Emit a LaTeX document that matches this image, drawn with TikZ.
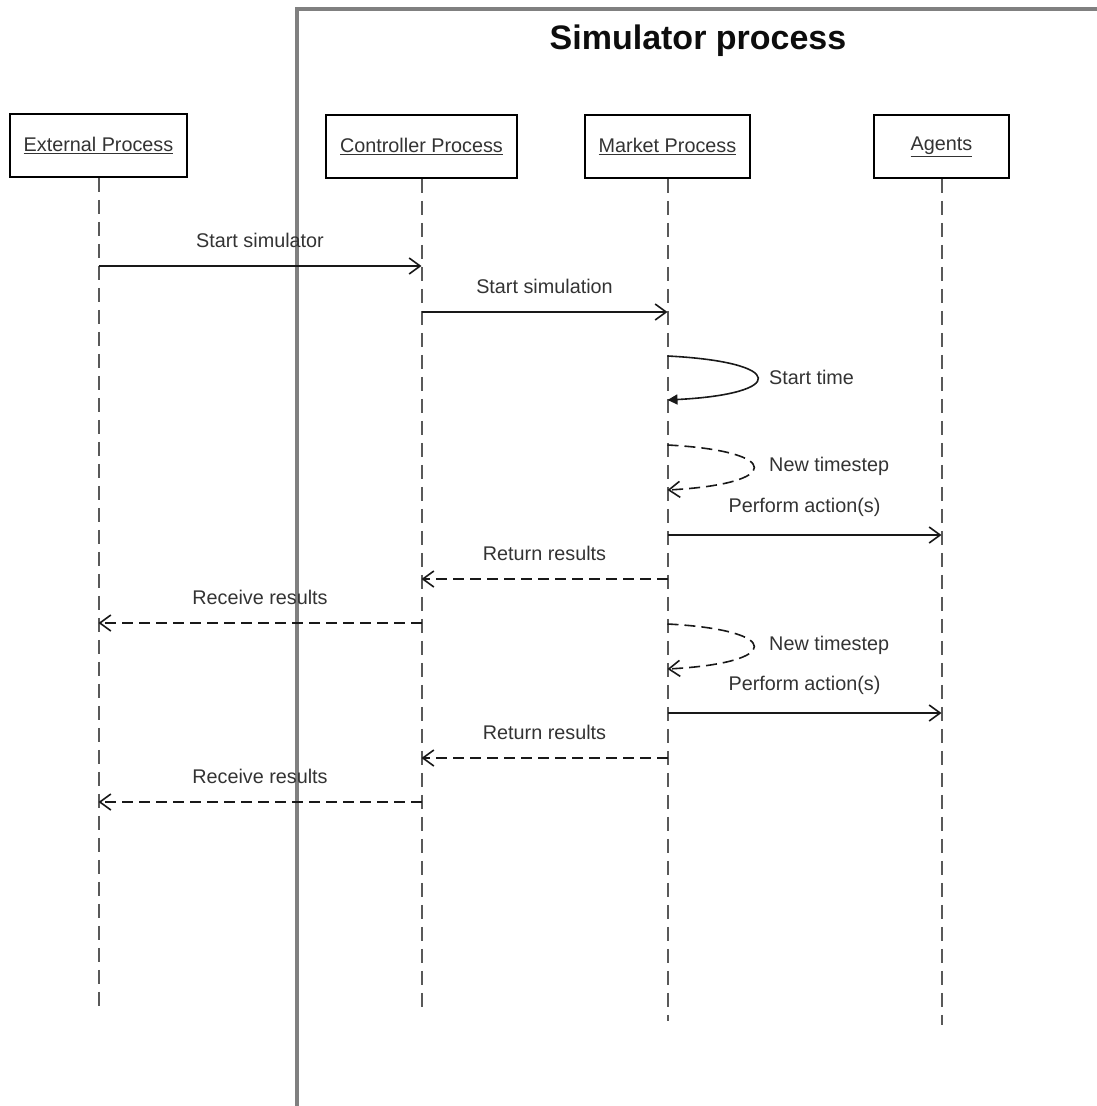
\documentclass[tikz,border=0pt]{standalone}
\usepackage{fontspec}
\setmainfont{Liberation Sans}
\usetikzlibrary{arrows.meta}
\begin{document}
\begin{tikzpicture}[x=1pt,y=-1pt,
  txt/.style={text=black!80, font=\fontsize{19.8}{23}\selectfont},
  actor/.style={draw=black, line width=1.8pt, fill=white, minimum height=63pt, inner sep=0pt, txt},
  lifeline/.style={draw=black!65, line width=2pt, dash pattern=on 14pt off 8pt},
  call/.style={draw=black!90, line width=1.6pt, -{Straight Barb[length=11pt,width=16pt,line width=1.6pt]}},
  reply/.style={call, dash pattern=on 11pt off 6pt},
  msg/.style={midway, above=18pt, inner sep=0pt, txt},
  side/.style={txt, anchor=west, inner sep=0pt},
  frame/.style={draw=black!50, line width=3.2pt}
]
\useasboundingbox (0,0) rectangle (1097,1106);

% simulator frame, open to the right and below
\draw[frame] (1100,9) -- (297,9) -- (297,1110);
\node[font=\bfseries\fontsize{34}{39}\selectfont, text=black!95] (title) at (698,41) {Simulator process};

% participants
\node[actor, minimum width=177pt] (ext) at (98.5,145.5) {\underline{External Process}};
\node[actor, minimum width=191pt] (ctl) at (421.5,146.5) {\underline{Controller Process}};
\node[actor, minimum width=165pt] (mkt) at (667.5,146.5) {\underline{Market Process}};
\node[actor, minimum width=135pt] (agt) at (941.5,146.5) {\underline{Agents}};

% lifelines
\coordinate (ext-end) at (98.5,1007);
\coordinate (ctl-end) at (421.5,1010);
\coordinate (mkt-end) at (667.5,1021);
\coordinate (agt-end) at (941.5,1025);
\draw[lifeline] (ext.south) -- (ext-end);
\draw[lifeline] (ctl.south) -- (ctl-end);
\draw[lifeline] (mkt.south) -- (mkt-end);
\draw[lifeline] (agt.south) -- (agt-end);

% message end points
\coordinate (e1) at (98.5,266);  \coordinate (c1) at (421.5,266);
\coordinate (c2) at (421.5,312); \coordinate (m2) at (667.5,312);
\coordinate (m3a) at (667.5,356); \coordinate (m3b) at (667.5,400);
\coordinate (m4a) at (667.5,445); \coordinate (m4b) at (667.5,490);
\coordinate (m5) at (667.5,535); \coordinate (a5) at (941.5,535);
\coordinate (m6) at (667.5,579); \coordinate (c6) at (421.5,579);
\coordinate (c7) at (421.5,623); \coordinate (e7) at (98.5,623);
\coordinate (m8a) at (667.5,624); \coordinate (m8b) at (667.5,669);
\coordinate (m9) at (667.5,713); \coordinate (a9) at (941.5,713);
\coordinate (m10) at (667.5,758); \coordinate (c10) at (421.5,758);
\coordinate (c11) at (421.5,802); \coordinate (e11) at (98.5,802);

% messages
\draw[call] (e1) -- (c1) node[msg] {Start simulator};
\draw[call] (c2) -- (m2) node[msg] {Start simulation};
\draw[draw=black!90, line width=1.6pt, -{Triangle[length=10pt,width=10pt]}]
  (m3a) .. controls (787,362) and (787,394) .. (m3b);
\node[side] (l3) at (769,377) {Start time};
\draw[reply] (m4a) .. controls (783,451) and (783,484) .. (m4b);
\node[side] (l4) at (769,466) {New timestep};
\draw[call] (m5) -- (a5) node[msg] {Perform action(s)};
\draw[reply] (m6) -- (c6) node[msg] {Return results};
\draw[reply] (c7) -- (e7) node[msg] {Receive results};
\draw[reply] (m8a) .. controls (783,630) and (783,663) .. (m8b);
\node[side] (l8) at (769,645) {New timestep};
\draw[call] (m9) -- (a9) node[msg] {Perform action(s)};
\draw[reply] (m10) -- (c10) node[msg] {Return results};
\draw[reply] (c11) -- (e11) node[msg] {Receive results};
\end{tikzpicture}
\end{document}
